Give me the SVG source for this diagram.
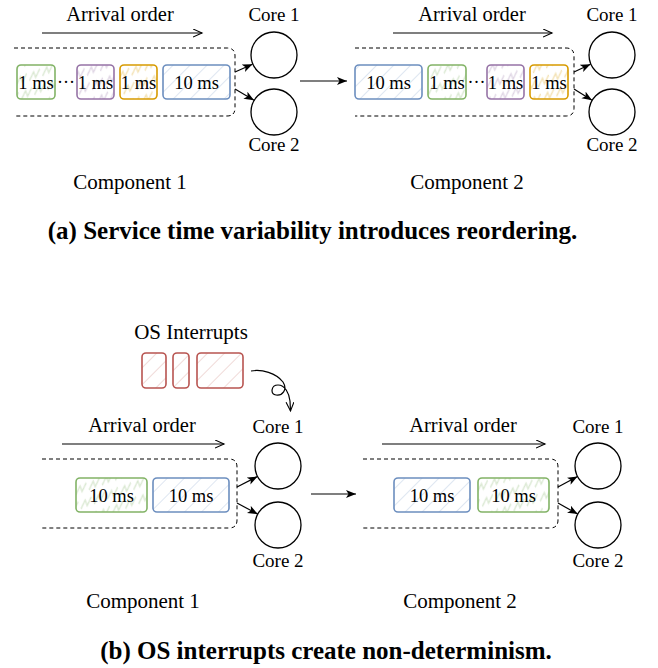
<svg xmlns="http://www.w3.org/2000/svg" width="658" height="668" viewBox="0 0 658 668">
<defs>
<style>
text{font-family:"Liberation Serif","Times New Roman",serif;fill:#000;text-anchor:middle}
.arr{font-size:20.5px}
.core{font-size:19px}
.comp{font-size:21px}
.ms{font-size:18.5px}
.cap{font-size:25px;font-weight:bold}
.dots{font-size:18px}
.cont{fill:none;stroke:#000;stroke-width:1;stroke-dasharray:4 3}
.cir{fill:#fff;stroke:#000;stroke-width:1.3}
.conn line,.conn path{stroke:#000;stroke-width:1.2;fill:none}
.g{fill:url(#zzG);stroke:#82b366;stroke-width:1.6}
.p{fill:url(#zzP);stroke:#9673a6;stroke-width:1.6}
.o{fill:url(#zzO);stroke:#d79b00;stroke-width:1.6}
.b{fill:url(#hB);stroke:#6c8ebf;stroke-width:1.6}
.r{fill:url(#hR);stroke:#b85450;stroke-width:1.6}
</style>
<pattern id="hB" width="12" height="12" patternUnits="userSpaceOnUse" patternTransform="rotate(45)"><line x1="0" y1="0" x2="0" y2="12" stroke="#6c8ebf" stroke-opacity="0.28" stroke-width="1.6"/></pattern>
<pattern id="hR" width="12" height="12" patternUnits="userSpaceOnUse" patternTransform="rotate(45)"><line x1="0" y1="0" x2="0" y2="12" stroke="#b85450" stroke-opacity="0.28" stroke-width="1.6"/></pattern>
<pattern id="zzG" width="14" height="15" patternUnits="userSpaceOnUse" patternTransform="rotate(-20)"><path d="M0,11 L7,4 L7,10 L14,3" fill="none" stroke="#82b366" stroke-opacity="0.3" stroke-width="1.3"/></pattern>
<pattern id="zzP" width="14" height="15" patternUnits="userSpaceOnUse" patternTransform="rotate(-20)"><path d="M0,11 L7,4 L7,10 L14,3" fill="none" stroke="#9673a6" stroke-opacity="0.3" stroke-width="1.3"/></pattern>
<pattern id="zzO" width="14" height="15" patternUnits="userSpaceOnUse" patternTransform="rotate(-20)"><path d="M0,11 L7,4 L7,10 L14,3" fill="none" stroke="#d79b00" stroke-opacity="0.3" stroke-width="1.3"/></pattern>
<marker id="fa" markerUnits="userSpaceOnUse" markerWidth="12" markerHeight="10" refX="10" refY="4" orient="auto"><path d="M0,0 L10,4 L0,8 L2.5,4 z" fill="#000"/></marker>
<marker id="oa" markerUnits="userSpaceOnUse" markerWidth="12" markerHeight="10" refX="9" refY="4" orient="auto"><path d="M0,0 L9,4 L0,8" fill="none" stroke="#000" stroke-width="1.1"/></marker>
</defs>
<rect width="658" height="668" fill="#fff"/>

<g id="top-left">
<text class="arr" x="120" y="21">Arrival order</text>
<path class="cont" d="M14,48 H227 Q235,48 235,56 V108 Q235,116 227,116 H14"/>
<g id="t1-g"><rect class="g" x="17" y="65" width="38" height="34" rx="4"/><text class="ms" x="36" y="88.5">1 ms</text></g>
<text class="dots" x="66" y="88">···</text>
<g id="t1-p"><rect class="p" x="77" y="65" width="37" height="34" rx="4"/><text class="ms" x="95.5" y="88.5">1 ms</text></g>
<g id="t1-o"><rect class="o" x="120" y="65" width="37" height="34" rx="4"/><text class="ms" x="138.5" y="88.5">1 ms</text></g>
<g id="t1-b"><rect class="b" x="163" y="65" width="67" height="34" rx="4"/><text class="ms" x="196.5" y="88.5">10 ms</text></g>
<g id="t1-core1"><circle class="cir" cx="274" cy="55" r="23"/><text class="core" x="274" y="21">Core 1</text></g>
<g id="t1-core2"><circle class="cir" cx="274" cy="112" r="23"/><text class="core" x="274" y="151">Core 2</text></g>
<text class="comp" x="130" y="189">Component 1</text>
</g>

<g id="top-right">
<text class="arr" x="472" y="21">Arrival order</text>
<path class="cont" d="M355,48 H566 Q574,48 574,56 V108 Q574,116 566,116 H355"/>
<g id="t2-b"><rect class="b" x="355" y="65" width="67" height="34" rx="4"/><text class="ms" x="388.5" y="88.5">10 ms</text></g>
<g id="t2-g"><rect class="g" x="428" y="65" width="38" height="34" rx="4"/><text class="ms" x="447" y="88.5">1 ms</text></g>
<text class="dots" x="476.5" y="88">···</text>
<g id="t2-p"><rect class="p" x="487" y="65" width="37" height="34" rx="4"/><text class="ms" x="505.5" y="88.5">1 ms</text></g>
<g id="t2-o"><rect class="o" x="530" y="65" width="38" height="34" rx="4"/><text class="ms" x="549" y="88.5">1 ms</text></g>
<g id="t2-core1"><circle class="cir" cx="612" cy="55" r="23"/><text class="core" x="612" y="21">Core 1</text></g>
<g id="t2-core2"><circle class="cir" cx="612" cy="112" r="23"/><text class="core" x="612" y="151">Core 2</text></g>
<text class="comp" x="467" y="189">Component 2</text>
</g>

<text class="cap" x="312.5" y="239">(a) Service time variability introduces reordering.</text>

<g id="interrupts">
<text class="comp" x="191" y="339">OS Interrupts</text>
<rect class="r" x="142" y="353" width="24" height="35" rx="4"/>
<rect class="r" x="173" y="353" width="16" height="35" rx="4"/>
<rect class="r" x="197" y="353" width="46" height="35" rx="4"/>
</g>

<g id="bottom-left">
<text class="arr" x="142" y="432">Arrival order</text>
<path class="cont" d="M42,459 H229 Q237,459 237,467 V520 Q237,528 229,528 H42"/>
<g id="b1-g"><rect class="g" x="76" y="478" width="71" height="34" rx="4"/><text class="ms" x="111.5" y="502">10 ms</text></g>
<g id="b1-b"><rect class="b" x="153" y="478" width="76" height="34" rx="4"/><text class="ms" x="191" y="502">10 ms</text></g>
<g id="b1-core1"><circle class="cir" cx="278" cy="466" r="23"/><text class="core" x="278" y="433">Core 1</text></g>
<g id="b1-core2"><circle class="cir" cx="278" cy="525" r="23"/><text class="core" x="278" y="567">Core 2</text></g>
<text class="comp" x="143" y="608">Component 1</text>
</g>

<g id="bottom-right">
<text class="arr" x="463" y="432">Arrival order</text>
<path class="cont" d="M363,459 H550 Q558,459 558,467 V520 Q558,528 550,528 H363"/>
<g id="b2-b"><rect class="b" x="394" y="478" width="76" height="34" rx="4"/><text class="ms" x="432" y="502">10 ms</text></g>
<g id="b2-g"><rect class="g" x="478" y="478" width="71" height="34" rx="4"/><text class="ms" x="513.5" y="502">10 ms</text></g>
<g id="b2-core1"><circle class="cir" cx="598" cy="466" r="23"/><text class="core" x="598" y="433">Core 1</text></g>
<g id="b2-core2"><circle class="cir" cx="598" cy="525" r="23"/><text class="core" x="598" y="567">Core 2</text></g>
<text class="comp" x="460" y="608">Component 2</text>
</g>

<text class="cap" x="326" y="659">(b) OS interrupts create non-determinism.</text>

<g id="connectors" class="conn">
<line x1="42" y1="33" x2="202" y2="33" marker-end="url(#oa)"/>
<line x1="393" y1="33" x2="552" y2="33" marker-end="url(#oa)"/>
<line x1="62" y1="444" x2="224" y2="444" marker-end="url(#oa)"/>
<line x1="382" y1="444" x2="545" y2="444" marker-end="url(#oa)"/>
<line x1="235" y1="72" x2="252.5" y2="64.2" marker-end="url(#fa)"/>
<line x1="235" y1="89" x2="254" y2="100.3" marker-end="url(#fa)"/>
<line x1="574" y1="72" x2="590.5" y2="64.2" marker-end="url(#fa)"/>
<line x1="574" y1="89" x2="592" y2="100.3" marker-end="url(#fa)"/>
<line x1="237" y1="487" x2="257.5" y2="476.5" marker-end="url(#fa)"/>
<line x1="237" y1="503" x2="257.7" y2="514.1" marker-end="url(#fa)"/>
<line x1="558" y1="487" x2="577.5" y2="476.5" marker-end="url(#fa)"/>
<line x1="558" y1="503" x2="577.7" y2="514.1" marker-end="url(#fa)"/>
<line x1="300" y1="81" x2="347" y2="81" marker-end="url(#fa)"/>
<line x1="311" y1="494" x2="356" y2="494" marker-end="url(#fa)"/>
<path d="M251,371 C262,369 276,373 283,382 C288,390 282,396 276,395 C270,394 271,385 278,385 C285,385 289,393 290,401 L290.5,411" marker-end="url(#oa)"/>
</g>
</svg>
